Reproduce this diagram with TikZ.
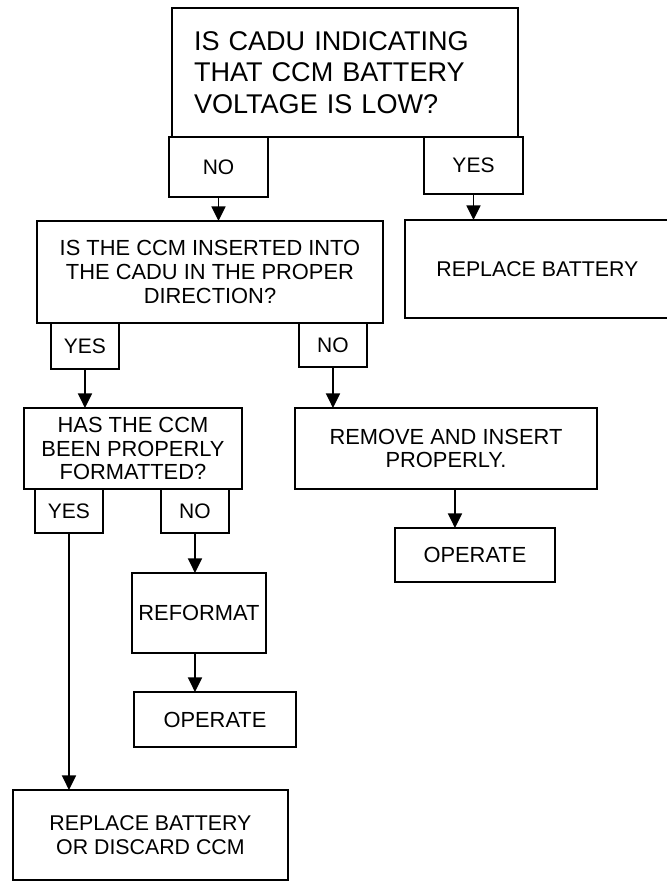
\documentclass[tikz,border=0pt]{standalone}
\usepackage{fontspec}
\setmainfont{Liberation Sans}
\usetikzlibrary{positioning, arrows.meta}

\begin{document}
\begin{tikzpicture}[
        box/.style={draw, line width=1.1pt, align=center, inner sep=0pt, outer sep=0pt, font=\fontsize{16pt}{17.8pt}\selectfont},
        scan_box/.style={draw, line width=1.6pt, align=center, inner sep=0pt, outer sep=0pt, font=\fontsize{16.4pt}{17.8pt}\selectfont},
        answer/.style={draw, line width=1.1pt, minimum width=74.25pt, inner sep=0pt, outer sep=0pt, font=\fontsize{15.75pt}{17pt}\selectfont},
        scan_answer/.style={draw, line width=1.6pt, minimum width=51pt, minimum height=33pt, inner sep=0pt, outer sep=0pt, font=\fontsize{15.75pt}{17pt}\selectfont},
        flow/.style={-{Triangle[length=11pt, width=10.5pt]}, line width=1.3pt}
    ]
    \useasboundingbox (0,0) rectangle (500.25pt,-661.5pt);

    % Question 1
    \node[box, align=left, text width=226.5pt, inner xsep=16.5pt, minimum height=96.75pt,
          font=\fontsize{20.3pt}{23.8pt}\selectfont] (q1) at (258.75pt,-54.4pt)
          {IS CADU INDICATING\\THAT CCM BATTERY\\VOLTAGE IS LOW?};
    \node[answer, minimum height=45pt, below right=0pt and -2.25pt of q1.south west] (q1_no) {NO};
    \node[answer, minimum height=42.75pt, below left=0pt and -3.75pt of q1.south east] (q1_yes) {YES};
    \node[box, minimum width=198.5pt, minimum height=73.5pt, below right=19.5pt and -14.25pt of q1_yes.south west] (rep_bat) {REPLACE BATTERY};

    % Question 2
    \node[scan_box, minimum width=259.5pt, minimum height=76.5pt, below=18pt of q1_no, xshift=-6.4pt] (q2)
          {IS THE CCM INSERTED INTO\\THE CADU IN THE PROPER\\DIRECTION?};
    \node[scan_answer, minimum height=34.5pt, below right=0pt and 10.5pt of q2.south west] (q2_yes) {YES};
    \node[scan_answer, below left=0pt and 12pt of q2.south east] (q2_no) {NO};
    \node[scan_box, minimum width=226.5pt, minimum height=60.75pt, below right=30.75pt and -3pt of q2_no.south west] (reinsert)
          {REMOVE AND INSERT\\PROPERLY.};
    \node[scan_box, minimum width=120pt, minimum height=40.5pt, below=29.25pt of reinsert, xshift=21.75pt] (op_right) {OPERATE};

    % Question 3
    \node[scan_box, minimum width=163.5pt, minimum height=60.75pt, below right=29.25pt and -20.25pt of q2_yes.south west] (q3)
          {HAS THE CCM\\BEEN PROPERLY\\FORMATTED?};
    \node[scan_answer, below right=0pt and 8.25pt of q3.south west] (q3_yes) {YES};
    \node[scan_answer, below left=0pt and 9.75pt of q3.south east] (q3_no) {NO};
    \node[scan_box, minimum width=100.5pt, minimum height=60pt, below right=30pt and -21.75pt of q3_no.south west] (reformat) {REFORMAT};
    \node[scan_box, minimum width=121.5pt, minimum height=41.25pt, below right=29.25pt and 1.5pt of reformat.south west] (op_left) {OPERATE};
    \node[box, minimum width=206.25pt, minimum height=67.5pt, below right=192.75pt and -16.5pt of q3_yes.south west] (rep_disc)
          {REPLACE BATTERY\\OR DISCARD CCM};

    % Connectors
    \draw[flow] (q1_no.south) -- (q1_no.south |- q2.north);
    \draw[flow] (q1_yes.south) -- (q1_yes.south |- rep_bat.north);
    \draw[flow] (q2_yes.south) -- (q2_yes.south |- q3.north);
    \draw[flow] (q2_no.south) -- (q2_no.south |- reinsert.north);
    \draw[flow] ([xshift=6.75pt]reinsert.south) -- ([xshift=6.75pt]reinsert.south |- op_right.north);
    \draw[flow] (q3_yes.south) -- (q3_yes.south |- rep_disc.north);
    \draw[flow] (q3_no.south) -- (q3_no.south |- reformat.north);
    \draw[flow] (reformat.south -| q3_no.south) -- (op_left.north -| q3_no.south);

\end{tikzpicture}
\end{document}
